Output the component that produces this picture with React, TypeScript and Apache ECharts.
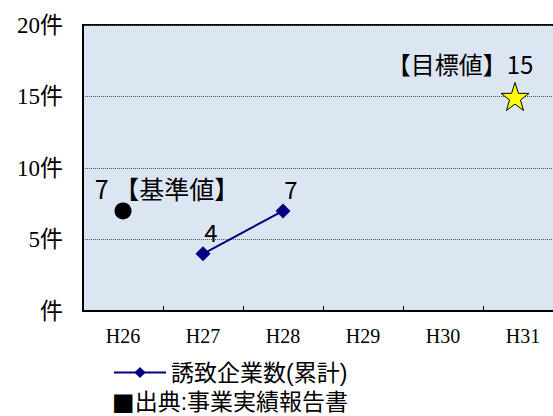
import React, { useEffect, useRef } from "react";
import * as echarts from "echarts";

const categories = ["H26", "H27", "H28", "H29", "H30", "H31"];
const seriesName = "誘致企業数(累計)";
const actualValues: (number | string)[] = ["-", 4, 7, "-", "-", "-"];
const baseValues: (number | string)[] = [7, "-", "-", "-", "-", "-"];
const targetValues: (number | string)[] = ["-", "-", "-", "-", "-", 15];
const baseLabel = "7 【基準値】";
const targetLabel = "【目標値】15";
const sourceMark = "■";
const sourceText = "出典:事業実績報告書";
const yTicks = [0, 5, 10, 15, 20];

const STAR =
  "path://M50,0 L61.8,35.1 L98.1,35.1 L68.8,56.7 L79.4,90.5 L50,69.6 L20.6,90.5 L31.2,56.7 L1.9,35.1 L38.2,35.1 Z";

const serif = "'Liberation Serif', 'Noto Sans CJK JP', serif";
const gothic = "'Noto Sans CJK JP', sans-serif";
const compact = "'Liberation Sans', 'Noto Sans CJK JP', sans-serif";

export default function App() {
  const ref = useRef<HTMLDivElement>(null);
  useEffect(() => {
    if (!ref.current) return;
    const chart = echarts.init(ref.current, null, { renderer: "svg" });
    chart.setOption({
      animation: false,
      backgroundColor: "#ffffff",
      grid: {
        left: 83,
        top: 25,
        width: 480,
        height: 286,
        show: true,
        backgroundColor: "#DCE6F2",
        borderColor: "#000000",
        borderWidth: 2,
        outerBoundsMode: "none",
        containLabel: false,
      },
      legend: {
        data: [seriesName],
        left: 113,
        top: 361,
        padding: 0,
        itemWidth: 52,
        itemHeight: 14,
        itemGap: 0,
        textStyle: { fontFamily: compact, fontSize: 23, lineHeight: 23, color: "#000" },
      },
      graphic: [
        {
          type: "text",
          x: 112,
          y: 402,
          style: {
            text: `{m|${sourceMark}}{t|${sourceText}}`,
            fill: "#000",
            verticalAlign: "middle",
            rich: {
              m: { fontFamily: "'DejaVu Sans', sans-serif", fontSize: 24, lineHeight: 23, fill: "#000" },
              t: { fontFamily: compact, fontSize: 23, lineHeight: 23, fill: "#000" },
            },
          },
        },
      ],
      xAxis: {
        type: "category",
        data: categories,
        boundaryGap: true,
        axisLine: { show: true, lineStyle: { color: "#000", width: 2 } },
        axisTick: { show: true, inside: true, length: 5, lineStyle: { color: "#000", width: 1 } },
        axisLabel: { fontFamily: serif, fontSize: 20, color: "#000", margin: 15 },
        splitLine: { show: false },
      },
      yAxis: {
        type: "value",
        min: yTicks[0],
        max: yTicks[yTicks.length - 1],
        interval: 5,
        axisLine: { show: true, lineStyle: { color: "#000", width: 2 } },
        axisTick: { show: false },
        axisLabel: {
          fontFamily: serif,
          fontSize: 23,
          color: "#000",
          margin: 20,
          formatter: (v: number) => (v === 0 ? "件" : v + "件"),
        },
        splitLine: { show: true, lineStyle: { color: "#555", type: [1, 1], width: 1 } },
      },
      series: [
        {
          name: seriesName,
          type: "line",
          data: actualValues,
          color: "#000080",
          symbol: "diamond",
          symbolSize: 15,
          lineStyle: { color: "#000080", width: 2 },
          itemStyle: { color: "#000080" },
          label: {
            show: true,
            position: "top",
            distance: 3,
            offset: [8, 0],
            fontFamily: gothic,
            fontSize: 24,
            color: "#000",
          },
          z: 3,
        },
        {
          name: "基準値",
          type: "scatter",
          data: baseValues,
          symbol: "circle",
          symbolSize: 17,
          itemStyle: { color: "#000", opacity: 1 },
          label: {
            show: true,
            position: "inside",
            offset: [44, -23],
            formatter: () => baseLabel,
            fontFamily: gothic,
            fontSize: 25,
            color: "#000",
          },
          z: 3,
        },
        {
          name: "目標値",
          type: "scatter",
          data: targetValues,
          symbol: STAR,
          symbolSize: 28,
          symbolOffset: [-8, 0],
          itemStyle: { color: "#FFFF00", borderColor: "#000", borderWidth: 1, opacity: 1 },
          label: {
            show: true,
            position: "inside",
            offset: [-55, -33],
            formatter: () => targetLabel,
            fontFamily: gothic,
            fontSize: 24,
            color: "#000",
          },
          z: 3,
        },
      ],
    });
    return () => chart.dispose();
  }, []);
  return (
    <div
      ref={ref}
      style={{ position: "fixed", left: 0, top: 0, width: 553, height: 416 }}
    />
  );
}
